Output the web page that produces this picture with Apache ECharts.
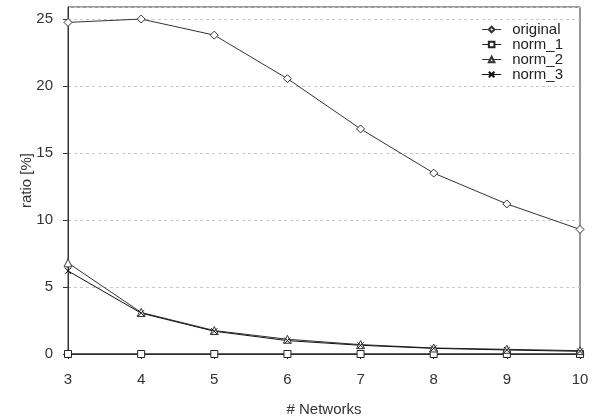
<!DOCTYPE html>
<html><head><meta charset="utf-8">
<script src="https://cdn.jsdelivr.net/npm/echarts@6/dist/echarts.min.js"></script>
<style>html,body{margin:0;padding:0;background:#fff}#c{width:595px;height:419px}</style>
</head><body><div id="c"></div>
<script>
const networks = [3, 4, 5, 6, 7, 8, 9, 10];
const original = [24.75, 25.0, 23.8, 20.55, 16.8, 13.5, 11.2, 9.3];
const norm1 = [0, 0, 0, 0, 0, 0, 0, 0];
const norm2 = [6.8, 3.1, 1.75, 1.1, 0.7, 0.45, 0.35, 0.25];
const norm3 = [6.2, 3.05, 1.7, 1.0, 0.65, 0.42, 0.3, 0.2];
const yTicks = [0, 5, 10, 15, 20, 25];

const pair = arr => networks.map((x, i) => [x, arr[i]]);
const font = 'Liberation Sans, Arial, sans-serif';
const crossPath = 'path://M0,0L10,10M10,0L0,10';

function ser(name, data, symbol, size, color) {
  return {
    name, type: 'line', data: pair(data), symbol, symbolSize: size,
    showSymbol: true,
    lineStyle: { color: color, width: 1 },
    itemStyle: { color: symbol === crossPath ? 'none' : '#fff', borderColor: color, borderWidth: 1 },
    emphasis: { disabled: true },
    animation: false
  };
}

const chart = echarts.init(document.getElementById('c'), null, { renderer: 'canvas' });
chart.setOption({
  backgroundColor: '#fff',
  animation: false,
  grid: { left: 68, right: 15, top: 7, bottom: 65, show: true, borderColor: '#333', borderWidth: 1,
    backgroundColor: 'transparent', containLabel: false, outerBoundsMode: 'none' },
  legend: {
    right: 27, top: 17, orient: 'vertical', itemGap: 0, itemWidth: 19, itemHeight: 7,
    lineStyle: { width: 1 },
    textStyle: { fontFamily: font, fontSize: 15, color: '#222', lineHeight: 15, padding: [0, 0, 0, 6] },
    data: ['original', 'norm_1', 'norm_2', 'norm_3']
  },
  xAxis: {
    type: 'value', min: 3, max: 10, interval: 1,
    name: '# Networks', nameLocation: 'middle', nameGap: 48, nameMoveOverlap: false,
    nameTextStyle: { fontFamily: font, fontSize: 15, color: '#333' },
    axisLine: { show: true, lineStyle: { color: '#333', width: 1 } },
    axisTick: { show: true, length: 5, lineStyle: { color: '#333' } },
    axisLabel: { fontFamily: font, fontSize: 15, color: '#333', margin: 18 },
    splitLine: { show: false }
  },
  yAxis: {
    type: 'value', min: 0, max: 25.9, interval: 5,
    name: 'ratio [%]', nameLocation: 'middle', nameGap: 34, nameMoveOverlap: false,
    nameTextStyle: { fontFamily: font, fontSize: 15, color: '#333' },
    axisLine: { show: true, lineStyle: { color: '#333', width: 1 } },
    axisTick: { show: true, length: 5, lineStyle: { color: '#333' } },
    axisLabel: { fontFamily: font, fontSize: 15, color: '#333', margin: 15, showMaxLabel: false,
      formatter: v => yTicks.includes(v) ? String(v) : '' },
    splitLine: { show: true, lineStyle: { color: '#c8c8c8', type: [3, 3], width: 1 } }
  },
  series: [
    ser('original', original, 'diamond', 8, '#333'),
    ser('norm_1', norm1, 'rect', 7, '#222'),
    ser('norm_2', norm2, 'triangle', 8, '#333'),
    ser('norm_3', norm3, crossPath, 6, '#111')
  ]
});
</script></body></html>
